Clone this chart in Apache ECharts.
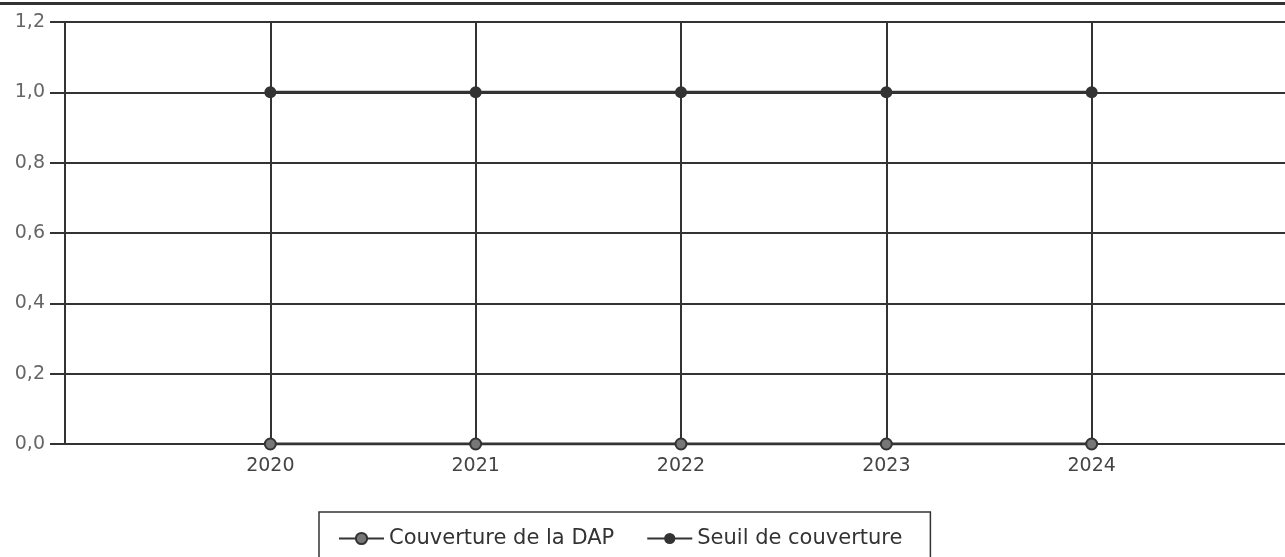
<!DOCTYPE html>
<html>
<head>
<meta charset="utf-8">
<script src="https://cdn.jsdelivr.net/npm/echarts@6/dist/echarts.min.js"></script>
<style>
  html, body { margin: 0; padding: 0; background: #fff; overflow: hidden; }
  #chart { width: 1285px; height: 557px; position: relative; }
  #topline { position: absolute; left: 0; top: 2px; width: 1285px; height: 3px; background: #333; z-index: 2; }
</style>
</head>
<body>
<div id="topline"></div>
<div id="chart"></div>
<script>
// données
const years = [2020, 2021, 2022, 2023, 2024];
const couverture = [0, 0, 0, 0, 0];
const seuil = [1, 1, 1, 1, 1];
const yTicks = [0, 0.2, 0.4, 0.6, 0.8, 1.0, 1.2];

const dark = "#333";
const chart = echarts.init(document.getElementById("chart"));

chart.setOption({
  animation: false,
  backgroundColor: "#fff",
  textStyle: { fontFamily: "DejaVu Sans" },
  // la grille dépasse à droite : 2025 tombe hors de l'image
  grid: { left: 65, top: 22, bottom: 113, width: 1232, outerBoundsMode: "none" },
  xAxis: {
    type: "value",
    min: 2019,
    max: 2025,
    interval: 1,
    axisLine: { show: true, lineStyle: { color: dark, width: 2 } },
    axisTick: { show: false },
    axisLabel: {
      color: "#444",
      fontSize: 19,
      margin: 13,
      formatter: function (v) {
        return years.indexOf(v) >= 0 ? String(v) : "";
      }
    },
    splitLine: { show: true, lineStyle: { color: dark, width: 2 } }
  },
  yAxis: {
    type: "value",
    min: yTicks[0],
    max: yTicks[yTicks.length - 1],
    interval: 0.2,
    axisLine: { show: true, lineStyle: { color: dark, width: 2 } },
    axisTick: { show: true, length: 15, lineStyle: { color: dark, width: 2 } },
    axisLabel: {
      color: "#666",
      fontSize: 19,
      margin: 20,
      formatter: function (v) {
        return v.toFixed(1).replace(".", ",");
      }
    },
    splitLine: { show: true, lineStyle: { color: dark, width: 2 } }
  },
  legend: {
    left: 319,
    top: 512,
    orient: "horizontal",
    borderColor: dark,
    borderWidth: 1.5,
    padding: [16, 28, 20, 19],
    itemGap: 32,
    itemWidth: 45,
    itemHeight: 14,
    textStyle: { color: "#333", fontSize: 21, fontFamily: "DejaVu Sans" },
    data: ["Couverture de la DAP", "Seuil de couverture"]
  },
  series: [
    {
      name: "Couverture de la DAP",
      type: "line",
      data: years.map((y, i) => [y, couverture[i]]),
      symbol: "circle",
      symbolSize: 11,
      lineStyle: { color: dark, width: 3 },
      itemStyle: { color: "#777", borderColor: dark, borderWidth: 2 }
    },
    {
      name: "Seuil de couverture",
      type: "line",
      data: years.map((y, i) => [y, seuil[i]]),
      symbol: "circle",
      symbolSize: 12,
      lineStyle: { color: dark, width: 3 },
      itemStyle: { color: dark }
    }
  ]
});
</script>
</body>
</html>
